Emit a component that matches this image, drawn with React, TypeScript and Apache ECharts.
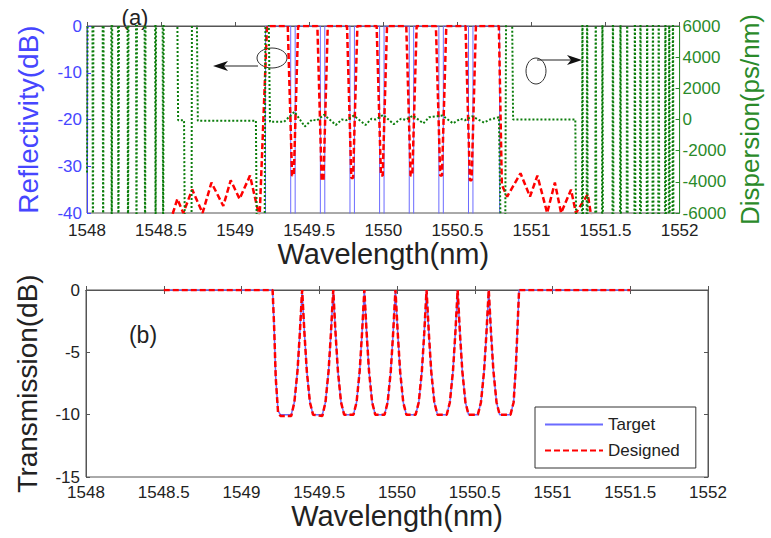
import React, { useEffect, useRef } from "react";
import * as echarts from "echarts";

type P = [number, number];

// (a) Reflectivity, target (dB)
const reflTarget: P[] = [
  [1548.0, -50], [1549.205, -50], [1549.205, 0],
  [1549.375, 0], [1549.375, -50], [1549.405, -50], [1549.405, 0],
  [1549.575, 0], [1549.575, -50], [1549.605, -50], [1549.605, 0],
  [1549.775, 0], [1549.775, -50], [1549.805, -50], [1549.805, 0],
  [1549.975, 0], [1549.975, -50], [1550.005, -50], [1550.005, 0],
  [1550.175, 0], [1550.175, -50], [1550.205, -50], [1550.205, 0],
  [1550.375, 0], [1550.375, -50], [1550.405, -50], [1550.405, 0],
  [1550.575, 0], [1550.575, -50], [1550.605, -50], [1550.605, 0],
  [1550.785, 0], [1550.785, -50], [1552.0, -50],
];

// (a) Reflectivity, designed (dB)
const reflDesigned: P[] = [
  [1548.56, -42], [1548.58, -40], [1548.61, -37], [1548.65, -40], [1548.71, -35],
  [1548.78, -40], [1548.84, -33.5], [1548.92, -38.5], [1548.97, -33], [1549.03, -37],
  [1549.1, -32], [1549.165, -41], [1549.215, 0],
  [1549.355, 0], [1549.384, -32], [1549.396, -32], [1549.425, 0],
  [1549.555, 0], [1549.584, -33], [1549.596, -33], [1549.625, 0],
  [1549.755, 0], [1549.784, -32.5], [1549.796, -32.5], [1549.825, 0],
  [1549.955, 0], [1549.984, -32], [1549.996, -32], [1550.025, 0],
  [1550.155, 0], [1550.184, -32], [1550.196, -32], [1550.225, 0],
  [1550.355, 0], [1550.384, -32], [1550.396, -32], [1550.425, 0],
  [1550.555, 0], [1550.584, -33], [1550.596, -33], [1550.625, 0],
  [1550.78, 0], [1550.8, -34], [1550.836, -36.5], [1550.926, -31.5], [1550.99, -36.5],
  [1551.04, -32], [1551.106, -40], [1551.158, -33.5], [1551.2, -40], [1551.267, -35],
  [1551.3, -40], [1551.38, -36], [1551.41, -42],
];

// (a) Dispersion, designed (ps/nm); +-9999 = off scale
const dispersion: P[] = [
  [1548.0, -3400], [1548.006, 9999],
  [1548.036, 9999], [1548.04, -9999], [1548.044, 9999],
  [1548.105, 9999], [1548.109, -9999], [1548.113, 9999],
  [1548.163, 9999], [1548.167, -9999], [1548.171, 9999],
  [1548.208, 9999], [1548.212, -9999], [1548.216, 9999],
  [1548.273, 9999], [1548.277, -9999], [1548.281, 9999],
  [1548.33, 9999], [1548.334, -9999], [1548.338, 9999],
  [1548.388, 9999], [1548.392, -9999], [1548.396, 9999],
  [1548.459, 9999], [1548.463, -9999], [1548.467, 9999],
  [1548.51, 9999], [1548.514, -9999], [1548.518, 9999],
  [1548.607, 9999], [1548.615, -50], [1548.655, -50], [1548.662, -9999],
  [1548.705, -9999], [1548.709, 9999], [1548.738, 9999], [1548.748, -80],
  [1549.14, -80], [1549.148, -9999], [1549.198, -9999], [1549.206, 9999],
  [1549.222, 9999], [1549.235, -150],
  [1549.33, -150], [1549.4, 500], [1549.47, -450], [1549.52, 0], [1549.55, -80],
  [1549.6, 300], [1549.68, -350], [1549.72, 0], [1549.75, -50],
  [1549.8, 250], [1549.88, -350], [1549.92, 50], [1549.95, 0],
  [1550.0, 300], [1550.07, -300], [1550.12, 50], [1550.15, -20],
  [1550.2, 250], [1550.27, -250], [1550.31, 150], [1550.35, 200],
  [1550.4, 250], [1550.47, -250], [1550.52, 50], [1550.55, -50],
  [1550.6, 200], [1550.68, -200], [1550.72, 0], [1550.78, 150],
  [1550.797, -9999], [1550.822, -9999], [1550.83, 9999], [1550.866, 9999], [1550.876, 0],
  [1551.296, 0], [1551.304, -9999],
  [1551.34, -9999], [1551.344, 9999], [1551.348, -9999],
  [1551.372, -9999], [1551.376, 9999], [1551.38, -9999],
  [1551.43, -9999], [1551.434, 9999], [1551.438, -9999],
  [1551.475, -9999], [1551.479, 9999], [1551.483, -9999],
  [1551.546, -9999], [1551.55, 9999], [1551.554, -9999],
  [1551.597, -9999], [1551.601, 9999], [1551.605, -9999],
  [1551.642, -9999], [1551.646, 9999], [1551.65, -9999],
  [1551.694, -9999], [1551.698, 9999], [1551.702, -9999],
  [1551.732, -9999], [1551.736, 9999], [1551.74, -9999],
  [1551.777, -9999], [1551.781, 9999], [1551.785, -9999],
  [1551.816, -9999], [1551.82, 9999], [1551.824, -9999],
  [1551.855, -9999], [1551.859, 9999], [1551.863, -9999],
  [1551.9, -9999], [1551.904, 9999], [1551.908, -9999],
  [1551.926, -9999], [1551.93, 9999], [1551.934, -9999],
  [1551.951, -9999], [1551.955, 9999], [1551.959, -9999],
  [1552.0, -9999],
];

// (b) Transmission (dB)
const transTarget: P[] = [
  [1548.5, 0], [1549.2, 0], [1549.21, -3], [1549.22, -7], [1549.235, -9.7], [1549.25, -10], [1549.32, -10],
  [1549.34, -9], [1549.36, -6.5], [1549.375, -3.5], [1549.39, 0], [1549.405, -3.5], [1549.42, -6.5], [1549.44, -9], [1549.46, -10], [1549.52, -10],
  [1549.54, -9], [1549.56, -6.5], [1549.575, -3.5], [1549.59, 0], [1549.605, -3.5], [1549.62, -6.5], [1549.64, -9], [1549.66, -10], [1549.72, -10],
  [1549.74, -9], [1549.76, -6.5], [1549.775, -3.5], [1549.79, 0], [1549.805, -3.5], [1549.82, -6.5], [1549.84, -9], [1549.86, -10], [1549.92, -10],
  [1549.94, -9], [1549.96, -6.5], [1549.975, -3.5], [1549.99, 0], [1550.005, -3.5], [1550.02, -6.5], [1550.04, -9], [1550.06, -10], [1550.12, -10],
  [1550.14, -9], [1550.16, -6.5], [1550.175, -3.5], [1550.19, 0], [1550.205, -3.5], [1550.22, -6.5], [1550.24, -9], [1550.26, -10], [1550.32, -10],
  [1550.34, -9], [1550.36, -6.5], [1550.375, -3.5], [1550.39, 0], [1550.405, -3.5], [1550.42, -6.5], [1550.44, -9], [1550.46, -10], [1550.52, -10],
  [1550.54, -9], [1550.56, -6.5], [1550.575, -3.5], [1550.59, 0], [1550.605, -3.5], [1550.62, -6.5], [1550.64, -9], [1550.66, -10], [1550.73, -10],
  [1550.75, -9], [1550.765, -6], [1550.775, -3], [1550.785, 0], [1551.5, 0],
];

const transDesigned: P[] = [
  [1548.5, 0], [1549.2, 0], [1549.21, -3], [1549.22, -7], [1549.235, -9.8], [1549.25, -10.1], [1549.32, -10.1],
  [1549.34, -9], [1549.36, -6.5], [1549.375, -3.5], [1549.39, 0], [1549.405, -3.5], [1549.42, -6.5], [1549.44, -9], [1549.46, -10], [1549.52, -10.1],
  [1549.54, -9], [1549.56, -6.5], [1549.575, -3.5], [1549.59, 0], [1549.605, -3.5], [1549.62, -6.5], [1549.64, -9], [1549.66, -10], [1549.72, -10],
  [1549.74, -9], [1549.76, -6.5], [1549.775, -3.5], [1549.79, 0], [1549.805, -3.5], [1549.82, -6.5], [1549.84, -9], [1549.86, -10], [1549.92, -10],
  [1549.94, -9], [1549.96, -6.5], [1549.975, -3.5], [1549.99, 0], [1550.005, -3.5], [1550.02, -6.5], [1550.04, -9], [1550.06, -10], [1550.12, -10],
  [1550.14, -9], [1550.16, -6.5], [1550.175, -3.5], [1550.19, 0], [1550.205, -3.5], [1550.22, -6.5], [1550.24, -9], [1550.26, -10], [1550.32, -10],
  [1550.34, -9], [1550.36, -6.5], [1550.375, -3.5], [1550.39, 0], [1550.405, -3.5], [1550.42, -6.5], [1550.44, -9], [1550.46, -10], [1550.52, -10],
  [1550.54, -9], [1550.56, -6.5], [1550.575, -3.5], [1550.59, 0], [1550.605, -3.5], [1550.62, -6.5], [1550.64, -9], [1550.66, -10], [1550.73, -10],
  [1550.75, -9], [1550.765, -6], [1550.775, -3], [1550.785, 0], [1551.5, 0],
];

const legendNames = ["Target", "Designed"];

const FONT = "'Liberation Sans', Arial, sans-serif";
const BLUE = "#4646ff";
const BLUE_LINE = "#6b6bff";
const RED = "#ff0000";
const GREEN = "#0b7d0b";
const GREEN_TXT = "#2a8a2a";
const DARK = "#222";
const FRAME = "#555";

const fmt = (v: number) => String(v);

export default function App() {
  const ref = useRef<HTMLDivElement>(null);
  useEffect(() => {
    if (!ref.current) return;
    const chart = echarts.init(ref.current, undefined, { renderer: "svg" });
    const xBase = {
      type: "value" as const,
      min: 1548,
      max: 1552,
      interval: 0.5,
      splitLine: { show: false },
      axisLine: { lineStyle: { color: FRAME } },
      axisTick: { inside: true, length: 4, lineStyle: { color: FRAME } },
      axisLabel: { fontSize: 17, color: DARK, margin: 7, fontFamily: FONT, formatter: fmt },
      nameLocation: "middle" as const,
      nameTextStyle: { fontSize: 29, color: DARK, fontFamily: FONT },
    };
    chart.setOption({
      animation: false,
      textStyle: { fontFamily: FONT },
      grid: [
        { left: 87, top: 26, width: 622, height: 187, show: true, borderColor: FRAME, borderWidth: 1 },
        { left: 86, top: 290, width: 622, height: 187, show: true, borderColor: FRAME, borderWidth: 1 },
      ],
      xAxis: [
        {
          ...xBase, gridIndex: 0, name: "Wavelength(nm)", nameGap: 16,
          axisLabel: { ...xBase.axisLabel, margin: 9 },
        },
        { ...xBase, gridIndex: 1, name: "Wavelength(nm)", nameGap: 24 },
        {
          ...xBase, gridIndex: 1, position: "top", name: "",
          axisLabel: { show: false },
        },
      ],
      yAxis: [
        {
          type: "value", gridIndex: 0, min: -40, max: 0, interval: 10,
          splitLine: { show: false },
          axisLine: { show: true, lineStyle: { color: BLUE } },
          axisTick: { inside: true, length: 4, lineStyle: { color: BLUE } },
          axisLabel: { fontSize: 17, color: BLUE, margin: 5, formatter: fmt },
          name: "Reflectivity(dB)", nameLocation: "middle", nameGap: 45,
          nameTextStyle: { fontSize: 28, color: BLUE },
        },
        {
          type: "value", gridIndex: 0, position: "right", min: -6000, max: 6000, interval: 2000,
          splitLine: { show: false },
          axisLine: { show: true, lineStyle: { color: GREEN_TXT } },
          axisTick: { inside: true, length: 4, lineStyle: { color: GREEN_TXT } },
          axisLabel: { fontSize: 17, color: GREEN_TXT, margin: 3, formatter: fmt },
          name: "Dispersion(ps/nm)", nameLocation: "middle", nameGap: 44, nameRotate: 90,
          nameTextStyle: { fontSize: 26, color: GREEN_TXT },
        },
        {
          type: "value", gridIndex: 1, min: -15, max: 0, interval: 5,
          splitLine: { show: false },
          axisLine: { show: true, lineStyle: { color: FRAME } },
          axisTick: { inside: true, length: 4, lineStyle: { color: FRAME } },
          axisLabel: { fontSize: 17, color: DARK, margin: 6, formatter: fmt },
          name: "Transmission(dB)", nameLocation: "middle", nameGap: 45,
          nameTextStyle: { fontSize: 28, color: DARK },
        },
        {
          type: "value", gridIndex: 1, position: "right", min: -15, max: 0, interval: 5,
          splitLine: { show: false },
          axisLine: { show: true, lineStyle: { color: FRAME } },
          axisTick: { inside: true, length: 4, lineStyle: { color: FRAME } },
          axisLabel: { show: false },
        },
      ],
      legend: {
        data: legendNames,
        orient: "vertical",
        left: 535,
        top: 407,
        itemWidth: 58,
        itemHeight: 14,
        itemGap: 9,
        padding: [9, 16, 9, 9],
        borderColor: "#333",
        borderWidth: 1,
        itemStyle: { opacity: 0, borderWidth: 0 },
        textStyle: { fontSize: 17, color: DARK, fontFamily: FONT },
      },
      series: [
        {
          name: "Reflectivity target", type: "line", xAxisIndex: 0, yAxisIndex: 0,
          data: reflTarget, symbol: "none", lineStyle: { color: BLUE_LINE, width: 1 },
          itemStyle: { color: BLUE_LINE },
        },
        {
          name: "Reflectivity designed", type: "line", xAxisIndex: 0, yAxisIndex: 0,
          data: reflDesigned, symbol: "none", lineStyle: { color: RED, width: 2.5, type: [6, 3] },
          itemStyle: { color: RED },
        },
        {
          name: "Dispersion", type: "line", xAxisIndex: 0, yAxisIndex: 1,
          data: dispersion, symbol: "none", lineStyle: { color: GREEN, width: 2, type: [2, 2] },
          itemStyle: { color: GREEN },
        },
        {
          name: "Target", type: "line", xAxisIndex: 1, yAxisIndex: 2,
          data: transTarget, symbol: "none", lineStyle: { color: BLUE_LINE, width: 1.5 },
          itemStyle: { color: BLUE_LINE },
        },
        {
          name: "Designed", type: "line", xAxisIndex: 1, yAxisIndex: 2,
          data: transDesigned, symbol: "none", lineStyle: { color: RED, width: 2.5, type: [6, 3] },
          itemStyle: { color: RED },
        },
      ],
      graphic: [
        {
          type: "text", x: 135, y: 17,
          style: { text: "(a)", fontSize: 22, fontFamily: FONT, fill: DARK, align: "center", verticalAlign: "middle" },
        },
        {
          type: "text", x: 143, y: 335,
          style: { text: "(b)", fontSize: 23, fontFamily: FONT, fill: DARK, align: "center", verticalAlign: "middle" },
        },
        { type: "ellipse", shape: { cx: 272, cy: 58, rx: 15, ry: 10 }, style: { fill: "none", stroke: "#333", lineWidth: 1 } },
        { type: "line", shape: { x1: 258, y1: 66, x2: 222, y2: 66 }, style: { stroke: "#222", lineWidth: 1.2 } },
        { type: "polygon", shape: { points: [[213, 66], [228, 61], [224, 66], [228, 71]] }, style: { fill: "#111" } },
        { type: "ellipse", shape: { cx: 536, cy: 71, rx: 10, ry: 13 }, style: { fill: "none", stroke: "#333", lineWidth: 1 } },
        { type: "line", shape: { x1: 537, y1: 60, x2: 573, y2: 60 }, style: { stroke: "#222", lineWidth: 1.2 } },
        { type: "polygon", shape: { points: [[582, 60], [567, 55], [571, 60], [567, 65]] }, style: { fill: "#111" } },
      ],
    });
    return () => chart.dispose();
  }, []);
  return (
    <div
      ref={ref}
      style={{ position: "fixed", left: 0, top: 0, width: 771, height: 538, background: "#fff" }}
    />
  );
}
